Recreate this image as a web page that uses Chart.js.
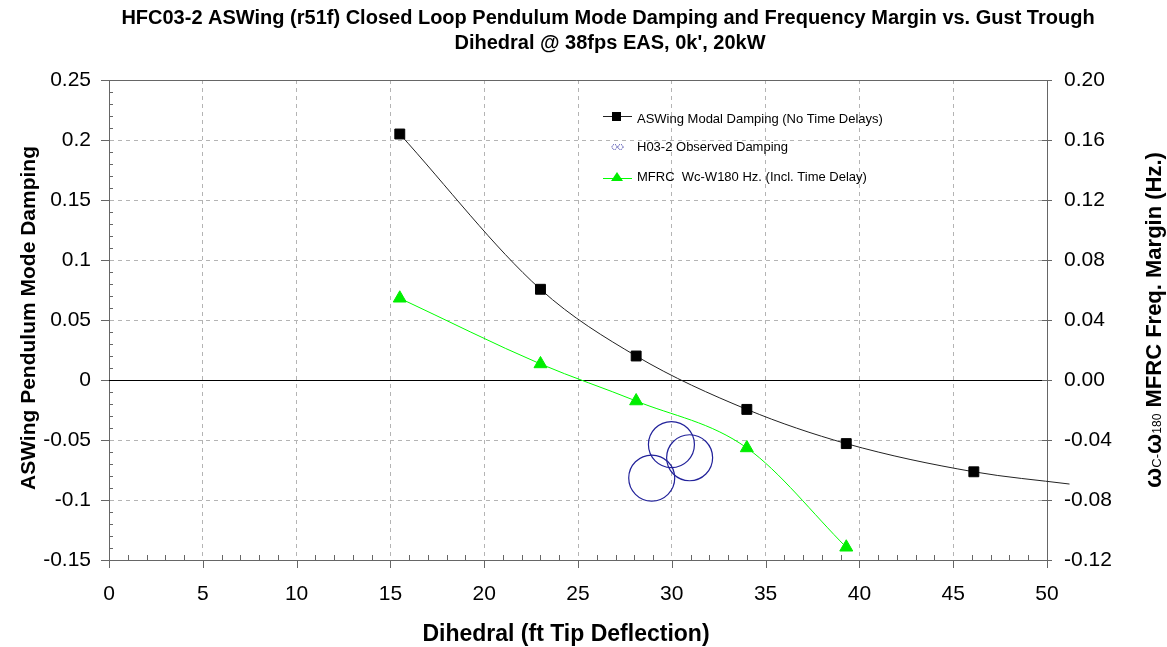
<!DOCTYPE html>
<html>
<head>
<meta charset="utf-8">
<script src="https://cdn.jsdelivr.net/npm/chart.js@4.4.0/dist/chart.umd.min.js"></script>
<style>
  html, body { margin: 0; padding: 0; background: #fff; }
  #wrap { width: 1167px; height: 647px; }
</style>
</head>
<body>
<div id="wrap"><canvas id="chart" width="1167" height="647"></canvas></div>
<script>
// values
const dihedral = [15.5, 23.0, 28.1, 34.0, 39.3, 46.1, 51.2];
const aswingDamping = [0.205, 0.0756, 0.020, -0.0245, -0.053, -0.0765, -0.0867];
const mfrcDihedral = [15.5, 23.0, 28.1, 34.0, 39.3];
const mfrcMargin = [0.0545, 0.0107, -0.014, -0.0453, -0.1115];
const observedDihedral = [29.98, 30.95, 28.93];
const observedDamping = [-0.0538, -0.0648, -0.0817];

const xTicks = [0, 5, 10, 15, 20, 25, 30, 35, 40, 45, 50];
const leftTicks = [-0.15, -0.1, -0.05, 0, 0.05, 0.1, 0.15, 0.2, 0.25];
const rightTicks = [-0.12, -0.08, -0.04, 0, 0.04, 0.08, 0.12, 0.16, 0.2];

const titleLines = [
    "HFC03-2 ASWing (r51f) Closed Loop Pendulum Mode Damping and Frequency Margin vs. Gust Trough",
    "Dihedral @ 38fps EAS, 0k', 20kW"
];

const FONT = "'Liberation Sans', Arial, sans-serif";
Chart.defaults.font.family = FONT;
Chart.defaults.color = "#000";

const toPoints = (xs, ys) => xs.map((x, i) => ({ x: x, y: ys[i] }));

// title, axis titles, tick marks, zero line, legend
const decor = {
    id: "decor",
    beforeDatasetsDraw(chart) {
        const { ctx, chartArea: a, scales } = chart;
        const y0 = Math.round(scales.y.getPixelForValue(0)) + 0.5;
        ctx.save();
        ctx.strokeStyle = "#000";
        ctx.lineWidth = 1;
        ctx.beginPath();
        ctx.moveTo(a.left, y0);
        ctx.lineTo(a.right, y0);
        ctx.stroke();
        ctx.restore();
    },
    afterDraw(chart) {
        const { ctx, chartArea: a, scales } = chart;
        const xs = scales.x, ys = scales.y;
        ctx.save();

        // frame top
        ctx.strokeStyle = "#666";
        ctx.lineWidth = 1;
        ctx.beginPath();
        ctx.moveTo(a.left - 8, a.top + 0.5);
        ctx.lineTo(a.right + 5, a.top + 0.5);
        ctx.stroke();

        // tick marks
        ctx.beginPath();
        for (let v = 0; v <= 50; v += 1) {
            const px = Math.round(xs.getPixelForValue(v)) + 0.5;
            if (v % 5 === 0) {
                ctx.moveTo(px, a.bottom);
                ctx.lineTo(px, a.bottom + 8);
            } else {
                ctx.moveTo(px, a.bottom);
                ctx.lineTo(px, a.bottom - 5);
            }
        }
        for (let i = -15; i <= 25; i++) {
            const py = Math.round(ys.getPixelForValue(i / 100)) + 0.5;
            if (i % 5 === 0) {
                ctx.moveTo(a.left - 8, py);
                ctx.lineTo(a.left, py);
            } else {
                ctx.moveTo(a.left, py);
                ctx.lineTo(a.left + 4, py);
            }
        }
        rightTicks.forEach(v => {
            const py = Math.round(scales.y2.getPixelForValue(v)) + 0.5;
            ctx.moveTo(a.right - 5, py);
            ctx.lineTo(a.right + 5, py);
        });
        ctx.stroke();

        // chart title
        ctx.fillStyle = "#000";
        ctx.textAlign = "center";
        ctx.textBaseline = "alphabetic";
        ctx.font = "bold 20px " + FONT;
        ctx.fillText(titleLines[0], 608, 24);
        ctx.fillText(titleLines[1], 610, 49);

        // x axis title
        ctx.font = "bold 23px " + FONT;
        ctx.fillText("Dihedral (ft Tip Deflection)", 566, 641);

        // left axis title
        ctx.font = "bold 21px " + FONT;
        ctx.save();
        ctx.translate(35, 318);
        ctx.rotate(-Math.PI / 2);
        ctx.fillText("ASWing Pendulum Mode Damping", 0, 0);
        ctx.restore();

        // right axis title with subscripts
        const parts = [
            ["ω", "bold 24px " + FONT, 0],
            ["C-", "13px " + FONT, 0],
            ["ω", "bold 24px " + FONT, 0],
            ["180", "12px " + FONT, 0],
            [" MFRC Freq. Margin (Hz.)", "bold 22px " + FONT, 0]
        ];
        let total = 0;
        parts.forEach(p => { ctx.font = p[1]; p[2] = ctx.measureText(p[0]).width; total += p[2]; });
        ctx.save();
        ctx.translate(1161, 320);
        ctx.rotate(-Math.PI / 2);
        ctx.textAlign = "left";
        let cx = -total / 2;
        parts.forEach(p => { ctx.font = p[1]; ctx.fillText(p[0], cx, 0); cx += p[2]; });
        ctx.restore();

        // legend
        const ds = chart.data.datasets;
        const rows = [119, 147, 177];
        ctx.font = "13px " + FONT;
        ctx.textAlign = "left";
        ctx.textBaseline = "middle";
        // ASWing
        ctx.strokeStyle = ds[1].borderColor;
        ctx.lineWidth = 1;
        ctx.beginPath();
        ctx.moveTo(603, rows[0] - 2.5); ctx.lineTo(632, rows[0] - 2.5);
        ctx.stroke();
        ctx.fillStyle = "#000";
        ctx.fillRect(612, rows[0] - 7, 9, 9);
        ctx.fillText(ds[1].label, 637, rows[0]);
        // observed
        ctx.strokeStyle = ds[0].borderColor;
        ctx.setLineDash([1, 1]);
        ctx.beginPath(); ctx.arc(614.5, rows[1], 2.5, 0, Math.PI * 2); ctx.stroke();
        ctx.beginPath(); ctx.arc(620.5, rows[1], 2.5, 0, Math.PI * 2); ctx.stroke();
        ctx.setLineDash([]);
        ctx.fillText(ds[0].label, 637, rows[1]);
        // MFRC
        ctx.strokeStyle = ds[2].borderColor;
        ctx.beginPath();
        ctx.moveTo(603, rows[2] + 1.5); ctx.lineTo(632, rows[2] + 1.5);
        ctx.stroke();
        ctx.fillStyle = ds[2].pointBackgroundColor;
        ctx.beginPath();
        ctx.moveTo(617, rows[2] - 5); ctx.lineTo(623, rows[2] + 4); ctx.lineTo(611, rows[2] + 4);
        ctx.closePath(); ctx.fill();
        ctx.fillStyle = "#000";
        ctx.fillText(ds[2].label, 637, rows[2]);

        ctx.restore();
    }
};

new Chart(document.getElementById("chart"), {
    type: "scatter",
    data: {
        datasets: [
            {
                label: "H03-2 Observed Damping",
                data: toPoints(observedDihedral, observedDamping),
                yAxisID: "y",
                pointStyle: "circle",
                pointRadius: 23,
                pointBorderWidth: 1.2,
                borderColor: "#22229a",
                backgroundColor: "rgba(0,0,0,0)",
                showLine: false
            },
            {
                label: "ASWing Modal Damping (No Time Delays)",
                data: toPoints(dihedral, aswingDamping),
                yAxisID: "y",
                showLine: true,
                borderColor: "#222",
                borderWidth: 1,
                cubicInterpolationMode: "monotone",
                pointStyle: "rect",
                pointRadius: dihedral.map(x => x > 50 ? 0 : 7),
                pointBackgroundColor: "#000",
                pointBorderColor: "#000",
                clip: false
            },
            {
                label: "MFRC  Wc-W180 Hz. (Incl. Time Delay)",
                data: toPoints(mfrcDihedral, mfrcMargin),
                yAxisID: "y2",
                showLine: true,
                borderColor: "#00ff00",
                borderWidth: 1,
                cubicInterpolationMode: "monotone",
                pointStyle: "triangle",
                pointRadius: 7.5,
                pointBackgroundColor: "#00ee00",
                pointBorderColor: "#00ee00",
                clip: false
            }
        ]
    },
    options: {
        responsive: false,
        animation: false,
        layout: { padding: { top: 80, left: 0, right: 0, bottom: 0 }, autoPadding: false },
        plugins: {
            legend: { display: false },
            title: { display: false },
            tooltip: { enabled: false }
        },
        scales: {
            x: {
                type: "linear",
                min: 0,
                max: 50,
                afterBuildTicks: s => { s.ticks = xTicks.map(v => ({ value: v })); },
                afterFit: s => { s.height = 87; },
                ticks: {
                    padding: 22,
                    maxRotation: 0,
                    font: { size: 21 },
                    color: "#000",
                    callback: v => String(v)
                },
                grid: { color: "#b4b4b4", lineWidth: 1, drawTicks: false },
                border: { display: true, color: "#666", width: 1, dash: [4, 4] }
            },
            y: {
                position: "left",
                min: -0.15,
                max: 0.25,
                afterBuildTicks: s => { s.ticks = leftTicks.map(v => ({ value: v })); },
                afterFit: s => { s.width = 109; },
                ticks: {
                    padding: 18,
                    font: { size: 21 },
                    color: "#000",
                    callback: v => String(+v.toFixed(2))
                },
                grid: { color: "#b4b4b4", lineWidth: 1, drawTicks: false },
                border: { display: true, color: "#666", width: 1, dash: [4, 4] }
            },
            y2: {
                position: "right",
                min: -0.12,
                max: 0.2,
                afterBuildTicks: s => { s.ticks = rightTicks.map(v => ({ value: v })); },
                afterFit: s => { s.width = 120; },
                ticks: {
                    padding: 17,
                    font: { size: 21 },
                    color: "#000",
                    callback: v => Math.abs(v) < 1e-9 ? "0.00" : v.toFixed(2)
                },
                grid: { drawOnChartArea: false, drawTicks: false },
                border: { display: true, color: "#666", width: 1 }
            }
        }
    },
    plugins: [decor]
});
</script>
</body>
</html>
